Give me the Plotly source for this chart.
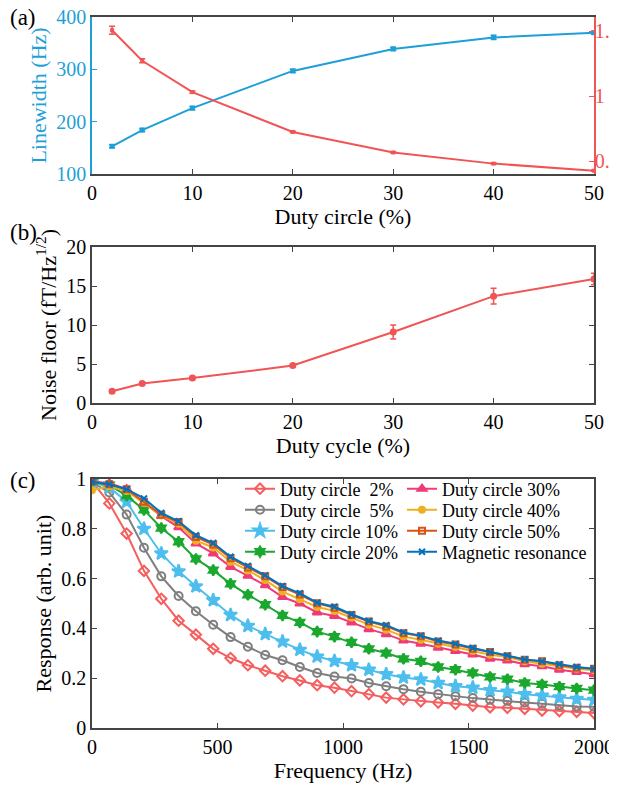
import plotly.graph_objects as go

# ---------------- data ----------------
duty = [2, 5, 10, 20, 30, 40, 50]
linewidth_hz = [153, 184, 226, 297, 339, 361, 370]
linewidth_err = [3, 3, 3, 3, 3, 4, 3]
right_param = [1.508, 1.273, 1.031, 0.724, 0.566, 0.480, 0.426]
right_err = [0.03, 0.015, 0.008, 0.005, 0.005, 0.005, 0.004]

noise_floor = [1.5, 2.5, 3.2, 4.8, 9.1, 13.7, 15.9]
noise_err = [0.2, 0.2, 0.2, 0.2, 0.9, 1.0, 0.75]

freq = [0, 69, 138, 207, 276, 345, 414, 483, 552, 621, 690, 759, 828, 897, 966,
        1034, 1103, 1172, 1241, 1310, 1379, 1448, 1517, 1586, 1655, 1724, 1793,
        1862, 1931, 2000]
resp_2 = [0.99, 0.902, 0.781, 0.631, 0.519, 0.431, 0.375, 0.318, 0.281, 0.252,
          0.230, 0.208, 0.191, 0.172, 0.162, 0.148, 0.136, 0.122, 0.115, 0.107,
          0.102, 0.097, 0.090, 0.083, 0.081, 0.077, 0.070, 0.068, 0.065, 0.060]
resp_5 = [0.988, 0.946, 0.857, 0.724, 0.609, 0.530, 0.469, 0.415, 0.365, 0.326,
          0.293, 0.272, 0.245, 0.221, 0.207, 0.199, 0.181, 0.168, 0.156, 0.146,
          0.136, 0.128, 0.120, 0.113, 0.109, 0.102, 0.097, 0.091, 0.086, 0.085]
resp_10 = [0.99, 0.966, 0.909, 0.800, 0.701, 0.629, 0.569, 0.513, 0.454, 0.410,
           0.377, 0.347, 0.314, 0.287, 0.269, 0.252, 0.234, 0.216, 0.203, 0.195,
           0.181, 0.168, 0.162, 0.152, 0.146, 0.136, 0.130, 0.123, 0.117, 0.113]
resp_20 = [0.99, 0.975, 0.933, 0.876, 0.803, 0.748, 0.679, 0.634, 0.579, 0.535,
           0.495, 0.452, 0.424, 0.387, 0.367, 0.344, 0.318, 0.301, 0.278, 0.268,
           0.245, 0.234, 0.221, 0.205, 0.196, 0.181, 0.175, 0.166, 0.159, 0.152]
resp_30 = [0.99, 0.983, 0.959, 0.904, 0.851, 0.806, 0.741, 0.701, 0.647, 0.611,
           0.573, 0.526, 0.500, 0.464, 0.450, 0.424, 0.397, 0.377, 0.351, 0.338,
           0.322, 0.309, 0.295, 0.278, 0.271, 0.256, 0.248, 0.234, 0.225, 0.216]
resp_40 = [0.955, 0.970, 0.952, 0.904, 0.853, 0.820, 0.752, 0.725, 0.668, 0.633,
           0.594, 0.548, 0.517, 0.486, 0.470, 0.444, 0.415, 0.395, 0.367, 0.354,
           0.338, 0.325, 0.309, 0.294, 0.285, 0.268, 0.258, 0.248, 0.238, 0.232]
resp_50 = [0.99, 0.979, 0.959, 0.909, 0.856, 0.827, 0.767, 0.737, 0.682, 0.645,
           0.609, 0.566, 0.536, 0.501, 0.483, 0.454, 0.428, 0.408, 0.381, 0.368,
           0.347, 0.335, 0.318, 0.305, 0.288, 0.274, 0.268, 0.252, 0.242, 0.238]
resp_mr = [0.988, 0.979, 0.959, 0.922, 0.864, 0.830, 0.774, 0.743, 0.688, 0.651,
           0.613, 0.570, 0.541, 0.503, 0.487, 0.457, 0.430, 0.413, 0.384, 0.371,
           0.351, 0.338, 0.321, 0.305, 0.291, 0.275, 0.268, 0.256, 0.245, 0.238]

series_names = ["Duty circle\u00a0 2%", "Duty circle\u00a0 5%", "Duty circle 10%",
                "Duty circle 20%", "Duty circle 30%", "Duty circle 40%",
                "Duty circle 50%", "Magnetic resonance"]

# ---------------- style ----------------
FONT = "Liberation Serif"
BLUE = "#1E9FD8"
RED = "#F05454"
AX = "#444444"

# The page body has an 8 px margin, so the figure is drawn 8 px in from the
# window's top-left corner. Geometry below is given in window pixels.
OFF = 8
W, H = 617 - OFF, 789 - OFF
PLOT_L, PLOT_R, PLOT_T, PLOT_B = 92, 594, 17, 728   # window pixels
ML = PLOT_L - OFF
MR = W - (PLOT_R - OFF)
MT = PLOT_T - OFF
MB = H - (PLOT_B - OFF)
PW, PH = W - ML - MR, H - MT - MB


def px_x(x):
    return (x - PLOT_L) / PW


def px_y(y):
    return (PLOT_B - y) / PH


fig = go.Figure()

# panel (a)
fig.add_trace(go.Scatter(
    x=duty, y=linewidth_hz, mode="lines+markers", xaxis="x", yaxis="y",
    line=dict(color=BLUE, width=2), marker=dict(symbol="square", size=5, color=BLUE),
    error_y=dict(type="data", array=linewidth_err, color=BLUE, thickness=1.5, width=3),
    showlegend=False))
fig.add_trace(go.Scatter(
    x=duty, y=right_param, mode="lines+markers", xaxis="x", yaxis="y2",
    line=dict(color=RED, width=2), marker=dict(symbol="square", size=4, color=RED),
    error_y=dict(type="data", array=right_err, color=RED, thickness=1.5, width=3),
    showlegend=False))

# panel (b)
fig.add_trace(go.Scatter(
    x=duty, y=noise_floor, mode="lines+markers", xaxis="x2", yaxis="y3",
    line=dict(color=RED, width=2), marker=dict(symbol="circle", size=7, color=RED),
    error_y=dict(type="data", array=noise_err, color=RED, thickness=1.5, width=3),
    showlegend=False))

# panel (c)
styles = [
    (resp_2, "#F45E5E", "diamond-open", 8),
    (resp_5, "#7F7F7F", "circle-open", 8),
    (resp_10, "#4DBEEE", "star", 10),
    (resp_20, "#1AA82E", "hexagram", 8),
    (resp_30, "#EF3B78", "triangle-up", 8),
    (resp_40, "#EDB120", "circle", 6),
    (resp_50, "#D95319", "square-open", 6),
    (resp_mr, "#0072BD", "x-thin-open", 6),
]
# legend slots: (left px, row centre px) in window pixels
col_x = [240, 402]
row_y = [489, 510, 531, 552]
legend_layouts = {}
for i, ((vals, col, sym, sz), name) in enumerate(zip(styles, series_names)):
    lname = "legend" if i == 0 else f"legend{i + 1}"
    c, r = divmod(i, 4)
    legend_layouts[lname] = dict(
        x=px_x(col_x[c]), y=px_y(row_y[r]), xanchor="left", yanchor="middle",
        bgcolor="rgba(255,255,255,0)", borderwidth=0,
        font=dict(family=FONT, size=18, color="black"))
    fig.add_trace(go.Scatter(
        x=freq, y=vals, mode="lines+markers", xaxis="x3", yaxis="y4",
        name=name, legend=lname,
        line=dict(color=col, width=2),
        marker=dict(symbol=sym, size=sz, color=col, line=dict(color=col, width=2))))

tickfont = dict(family=FONT, size=20, color="black")
titlefont = dict(family=FONT, size=22, color="black")


def xax(anchor, rng, dtick, title):
    return dict(anchor=anchor, range=rng, dtick=dtick, tick0=0, automargin=False,
                ticklabeloverflow="allow",
                ticks="inside", ticklen=5, tickcolor=AX, linecolor=AX, linewidth=1.5,
                mirror="ticks", showline=True, showgrid=False, zeroline=False,
                tickfont=tickfont, title=dict(text=title, font=titlefont, standoff=5))


fig.update_layout(
    width=W, height=H,
    margin=dict(l=ML, r=MR, t=MT, b=MB, autoexpand=False),
    paper_bgcolor="white", plot_bgcolor="white",
    font=dict(family=FONT, color="black"),
    xaxis=xax("y", [0, 50], 10, "Duty circle (%)"),
    xaxis2=xax("y3", [0, 50], 10, "Duty cycle (%)"),
    xaxis3=xax("y4", [0, 2000], 500, "Frequency (Hz)"),
    yaxis=dict(domain=[px_y(174), px_y(17)], anchor="x", range=[100, 400], dtick=100,
               automargin=False, ticklabeloverflow="allow",
               ticks="inside", ticklen=5, tickcolor=BLUE, linecolor=BLUE, linewidth=1.5,
               showline=True, showgrid=False, zeroline=False,
               tickfont=dict(family=FONT, size=20, color=BLUE),
               title=dict(text="Linewidth (Hz)", font=dict(family=FONT, size=22, color=BLUE),
                          standoff=4)),
    yaxis2=dict(overlaying="y", side="right", anchor="x", range=[0.40, 1.61],
                automargin=False, ticklabeloverflow="allow", ticklabelstandoff=-5,
                tickvals=[0.5, 1, 1.5], ticktext=["0.5", "1", "1.5"],
                ticks="inside", ticklen=5, tickcolor=RED, linecolor=RED, linewidth=1.5,
                showline=True, showgrid=False, zeroline=False,
                tickfont=dict(family=FONT, size=20, color=RED)),
    yaxis3=dict(domain=[px_y(403), px_y(247)], anchor="x2", range=[0, 20], dtick=5,
                automargin=False, ticklabeloverflow="allow",
                ticks="inside", ticklen=5, tickcolor=AX, linecolor=AX, linewidth=1.5,
                mirror="ticks", showline=True, showgrid=False, zeroline=False,
                tickfont=tickfont,
                title=dict(text="Noise floor (fT/Hz<sup>1/2</sup>)", font=titlefont, standoff=4)),
    yaxis4=dict(domain=[px_y(728), px_y(479)], anchor="x3", range=[0, 1],
                automargin=False, ticklabeloverflow="allow",
                tickvals=[0, 0.2, 0.4, 0.6, 0.8, 1], ticktext=["0", "0.2", "0.4", "0.6", "0.8", "1"],
                ticks="inside", ticklen=5, tickcolor=AX, linecolor=AX, linewidth=1.5,
                mirror="ticks", showline=True, showgrid=False, zeroline=False,
                tickfont=tickfont,
                title=dict(text="Response (arb. unit)", font=titlefont, standoff=4)),
    annotations=[
        dict(text="(a)", x=px_x(8), y=px_y(17), xref="paper", yref="paper",
             xanchor="left", yanchor="middle", showarrow=False, font=dict(family=FONT, size=23)),
        dict(text="(b)", x=px_x(8), y=px_y(232), xref="paper", yref="paper",
             xanchor="left", yanchor="middle", showarrow=False, font=dict(family=FONT, size=23)),
        dict(text="(c)", x=px_x(8), y=px_y(480), xref="paper", yref="paper",
             xanchor="left", yanchor="middle", showarrow=False, font=dict(family=FONT, size=23)),
    ],
)
fig.update_layout(**legend_layouts)

fig.write_html("out.html")
